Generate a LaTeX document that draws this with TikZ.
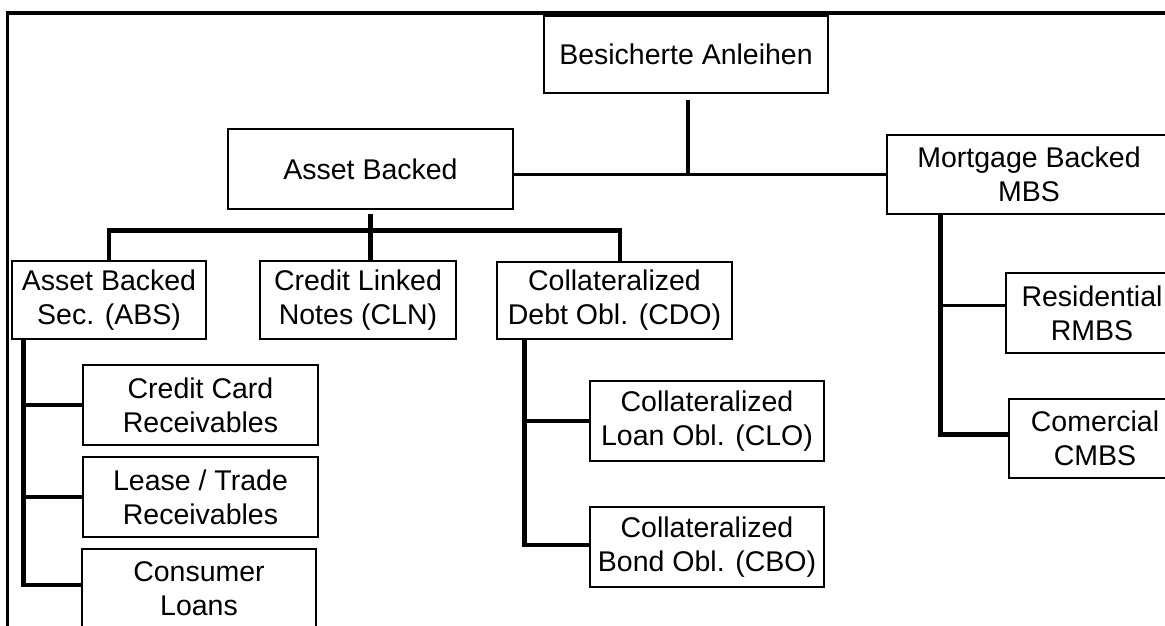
\documentclass[tikz,border=0pt]{standalone}
\usepackage{fontspec}
\setmainfont{Liberation Sans}
\begin{document}
\begin{tikzpicture}[x=1pt,y=-1pt,
  box/.style={draw=black,line width=1.4pt,fill=white,inner sep=0pt,align=center,
    font=\fontsize{28.5}{34}\selectfont},
  thickline/.style={line width=4.8pt},
  midline/.style={line width=3pt},
  frameline/.style={line width=3.5pt}]
\useasboundingbox (0,0) rectangle (1165,626);
\clip (0,0) rectangle (1165,626);

\draw[frameline] (1175,13) -- (7.5,13) -- (7.5,640);

\node[box,minimum width=284pt,minimum height=77pt] (root) at (686,54.5) {\raisebox{-3pt}{Besicherte Anleihen}};
\node[box,minimum width=285pt,minimum height=80pt] (ab) at (370.5,169) {\raisebox{-3pt}{Asset Backed}};
\node[box,minimum width=284pt,minimum height=79pt] (mbs) at (1029,174.5) {Mortgage Backed\\MBS};
\node[box,minimum width=194pt,minimum height=78pt] (abs) at (109,300) {Asset Backed\\Sec. (ABS)};
\node[box,minimum width=196pt,minimum height=78pt] (cln) at (358,300) {Credit Linked\\Notes (CLN)};
\node[box,minimum width=235pt,minimum height=77pt] (cdo) at (614.5,300.5) {Collateralized\\Debt Obl. (CDO)};
\node[box,minimum width=235pt,minimum height=80pt] (cc) at (200.5,405) {Credit Card\\Receivables};
\node[box,minimum width=235pt,minimum height=80pt] (lt) at (200.5,497) {Lease / Trade\\Receivables};
\node[box,minimum width=234pt,minimum height=80pt] (cl) at (199,589) {Consumer\\Loans};
\node[box,minimum width=234pt,minimum height=80pt] (clo) at (707,421) {Collateralized\\Loan Obl. (CLO)};
\node[box,minimum width=234pt,minimum height=80pt] (cbo) at (707,547) {Collateralized\\Bond Obl. (CBO)};
\node[box,minimum width=172pt,minimum height=80pt] (res) at (1092,313) {Residential\\RMBS};
\node[box,minimum width=172pt,minimum height=79pt] (com) at (1095,438.5) {Comercial\\CMBS};

% top level
\draw[line width=4pt,shorten <=6pt] ([xshift=2pt]root.south) -- ([xshift=2pt]root.south |- mbs.west);
\draw[midline] (ab.east |- mbs.west) -- (mbs.west);

% asset backed children
\draw[thickline,shorten <=4pt] (ab.south) -- (ab.south |- cln.north);
\draw[thickline] (abs.north) -- ++(0,-30) -| ([xshift=5.5pt]cdo.north);

% ABS trunk
\coordinate (abst) at ([xshift=12pt]abs.south west);
\draw[thickline] (abst) |- ([yshift=4pt]cl.west);
\draw[thickline] (cc.west) -- (cc.west -| abst);
\draw[thickline] (lt.west) -- (lt.west -| abst);

% CDO trunk
\coordinate (cdot) at ([xshift=28pt]cdo.south west);
\draw[thickline] (cdot) |- ([yshift=2pt]cbo.west);
\draw[thickline] (clo.west) -- (clo.west -| cdot);

% MBS trunk
\coordinate (mbst) at ([xshift=54pt,yshift=2pt]mbs.south west);
\draw[thickline] (mbst) |- ([yshift=4pt]com.west);
\draw[midline] ([yshift=8pt]res.west) -- ([yshift=8pt]res.west -| mbst);
\end{tikzpicture}
\end{document}
